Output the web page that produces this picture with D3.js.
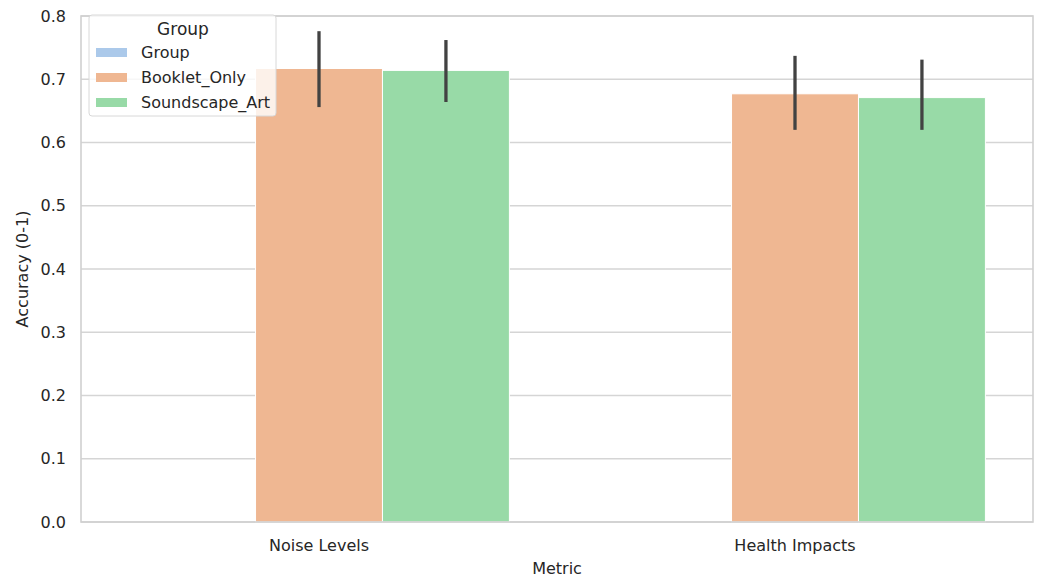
<!DOCTYPE html>
<html>
<head>
<meta charset="utf-8">
<script src="https://cdn.jsdelivr.net/npm/d3@7"></script>
<style>
  html, body { margin: 0; padding: 0; background: #ffffff; }
  svg { display: block; font-family: "DejaVu Sans", sans-serif; }
</style>
</head>
<body>
<svg id="chart" width="1041" height="581"></svg>
<script>
// Accuracy by metric and group
const metrics = ["Noise Levels", "Health Impacts"];
const groups = ["Group", "Booklet_Only", "Soundscape_Art"];
const colors = ["#abc9ea", "#efb792", "#98daa7"];

// mean accuracy per group (columns follow `metrics`)
const groupValues = [null, null];
const bookletValues = [0.717, 0.677];
const soundscapeValues = [0.714, 0.671];

// 95% CI bounds
const bookletLow = [0.656, 0.620];
const bookletHigh = [0.776, 0.737];
const soundscapeLow = [0.664, 0.620];
const soundscapeHigh = [0.762, 0.731];

const yTicks = [0.0, 0.1, 0.2, 0.3, 0.4, 0.5, 0.6, 0.7, 0.8];

const series = [
  { name: groups[0], values: groupValues, low: [null, null], high: [null, null], color: colors[0] },
  { name: groups[1], values: bookletValues, low: bookletLow, high: bookletHigh, color: colors[1] },
  { name: groups[2], values: soundscapeValues, low: soundscapeLow, high: soundscapeHigh, color: colors[2] }
];

const svg = d3.select("#chart");
const margin = { left: 81, right: 8, top: 16, bottom: 59 };
const W = 1041, H = 581;
const innerW = W - margin.left - margin.right;
const innerH = H - margin.top - margin.bottom;

const g = svg.append("g").attr("transform", `translate(${margin.left},${margin.top})`);

const x = d3.scaleBand().domain(metrics).range([0, innerW]).paddingInner(0.2).paddingOuter(0.1);
const xSub = d3.scaleBand().domain(groups).range([0, x.bandwidth()]);
const y = d3.scaleLinear().domain([0, 0.8]).range([innerH, 0]);

// horizontal grid
g.append("g")
  .selectAll("line")
  .data(yTicks)
  .join("line")
  .attr("x1", 0).attr("x2", innerW)
  .attr("y1", d => y(d)).attr("y2", d => y(d))
  .attr("stroke", "#d5d5d5").attr("stroke-width", 1.3);

// bars
const rows = [];
series.forEach(s => {
  metrics.forEach((m, i) => {
    rows.push({ metric: m, group: s.name, value: s.values[i], low: s.low[i], high: s.high[i], color: s.color });
  });
});

g.append("g")
  .selectAll("rect")
  .data(rows.filter(d => d.value != null))
  .join("rect")
  .attr("x", d => x(d.metric) + xSub(d.group))
  .attr("width", xSub.bandwidth())
  .attr("y", d => y(d.value))
  .attr("height", d => y(0) - y(d.value))
  .attr("fill", d => d.color)
  .attr("stroke", "#ffffff")
  .attr("stroke-width", 1);

// error bars
g.append("g")
  .selectAll("line")
  .data(rows.filter(d => d.low != null))
  .join("line")
  .attr("x1", d => x(d.metric) + xSub(d.group) + xSub.bandwidth() / 2)
  .attr("x2", d => x(d.metric) + xSub(d.group) + xSub.bandwidth() / 2)
  .attr("y1", d => y(d.low))
  .attr("y2", d => y(d.high))
  .attr("stroke", "#424242")
  .attr("stroke-width", 3.3);

// axes
const xAxis = g.append("g")
  .attr("transform", `translate(0,${innerH})`)
  .call(d3.axisBottom(x).tickSize(0).tickPadding(18));
xAxis.select(".domain").remove();
xAxis.selectAll("text").attr("font-size", 16).attr("fill", "#262626").attr("font-family", "DejaVu Sans");

const yAxis = g.append("g")
  .call(d3.axisLeft(y).tickValues(yTicks).tickFormat(d3.format(".1f")).tickSize(0).tickPadding(15));
yAxis.select(".domain").remove();
yAxis.selectAll("text").attr("font-size", 16).attr("fill", "#262626").attr("font-family", "DejaVu Sans");

// frame
g.append("rect")
  .attr("x", 0).attr("y", 0)
  .attr("width", innerW).attr("height", innerH)
  .attr("fill", "none")
  .attr("stroke", "#d0d0d0")
  .attr("stroke-width", 1.6);

// axis titles
svg.append("text")
  .attr("x", margin.left + innerW / 2)
  .attr("y", 574)
  .attr("text-anchor", "middle")
  .attr("font-size", 16)
  .attr("fill", "#262626")
  .text("Metric");

svg.append("text")
  .attr("transform", `translate(28,${margin.top + innerH / 2}) rotate(-90)`)
  .attr("text-anchor", "middle")
  .attr("font-size", 16)
  .attr("fill", "#262626")
  .text("Accuracy (0-1)");

// legend
const legend = svg.append("g").attr("transform", "translate(89,15)");
legend.append("rect")
  .attr("x", 0).attr("y", 0)
  .attr("width", 187).attr("height", 101)
  .attr("rx", 3)
  .attr("fill", "rgba(255,255,255,0.8)")
  .attr("stroke", "#d8d8d8")
  .attr("stroke-width", 1);
legend.append("text")
  .attr("x", 94).attr("y", 20)
  .attr("text-anchor", "middle")
  .attr("font-size", 17)
  .attr("fill", "#262626")
  .text("Group");
const items = legend.selectAll("g.item")
  .data(series)
  .join("g")
  .attr("class", "item")
  .attr("transform", (d, i) => `translate(7,${33 + i * 25})`);
items.append("rect")
  .attr("width", 31).attr("height", 9)
  .attr("fill", d => d.color);
items.append("text")
  .attr("x", 45).attr("y", 10)
  .attr("font-size", 16)
  .attr("fill", "#262626")
  .text(d => d.name);
</script>
</body>
</html>
